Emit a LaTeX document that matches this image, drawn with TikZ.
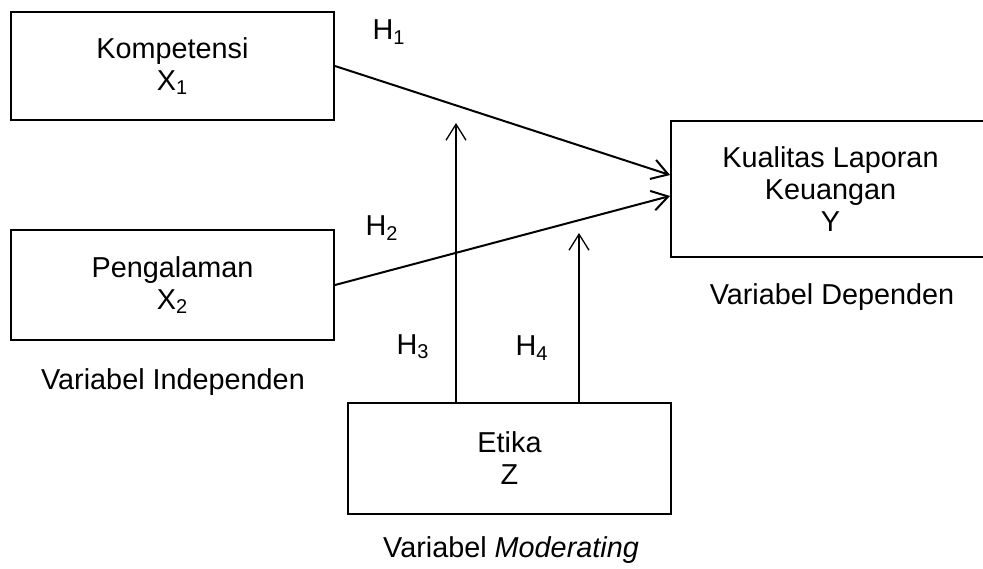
\documentclass[tikz,border=0pt]{standalone}
\usepackage{fontspec}
\setmainfont{Liberation Sans}
\usepackage{tikz}
\usetikzlibrary{arrows.meta, positioning, calc}

\begin{document}
\begin{tikzpicture}[x=0.5pt, y=-0.5pt,
		varbox/.style={draw, line width=1pt, minimum width=161.5pt, minimum height=54pt, align=center, inner sep=0pt, font=\fontsize{14.4}{16}\selectfont},
		hlabel/.style={inner sep=0pt, font=\fontsize{14.4}{16}\selectfont},
		caption/.style={inner sep=0pt, font=\fontsize{14.4}{16}\selectfont},
		mainarr/.style={line width=1pt, -{Straight Barb[length=8pt, width=10pt]}},
		modarr/.style={line width=0.65pt, -{Straight Barb[length=8pt, width=10pt]}}]
	\useasboundingbox (0,0) rectangle (983,568);
	\node[varbox] (komp) at (172.5,66) {Kompetensi\\X\textsubscript{1}};
	\node[varbox, minimum height=55pt] (peng) at (172.5,285) {Pengalaman\\X\textsubscript{2}};
	\node[varbox, minimum width=159.5pt, minimum height=68pt] (kual) at (830.5,189) {Kualitas Laporan\\Keuangan\\Y};
	\node[varbox, minimum height=55.5pt] (etika) at (509.5,458.5) {Etika\\Z};
	\node[caption] (capind) at (173,382) {Variabel Independen};
	\node[caption] (capdep) at (832,297) {Variabel Dependen};
	\node[caption] (capmod) at (511,550) {Variabel \textit{Moderating}};
	\node[hlabel] (h1) at (389,32) {H\textsubscript{1}};
	\node[hlabel] (h2) at (382,228) {H\textsubscript{2}};
	\node[hlabel] (h3) at (413,347) {H\textsubscript{3}};
	\node[hlabel] (h4) at (532,348) {H\textsubscript{4}};
	\coordinate (t3) at (456,123);
	\coordinate (t4) at (579,233);
	\draw[mainarr] (komp.east) -- ($(kual.west)+(0,-14)$);
	\draw[mainarr] (peng.east) -- ($(kual.west)+(0,7)$);
	\draw[modarr] (etika.north -| t3) -- (t3);
	\draw[modarr] (etika.north -| t4) -- (t4);
\end{tikzpicture}
\end{document}
